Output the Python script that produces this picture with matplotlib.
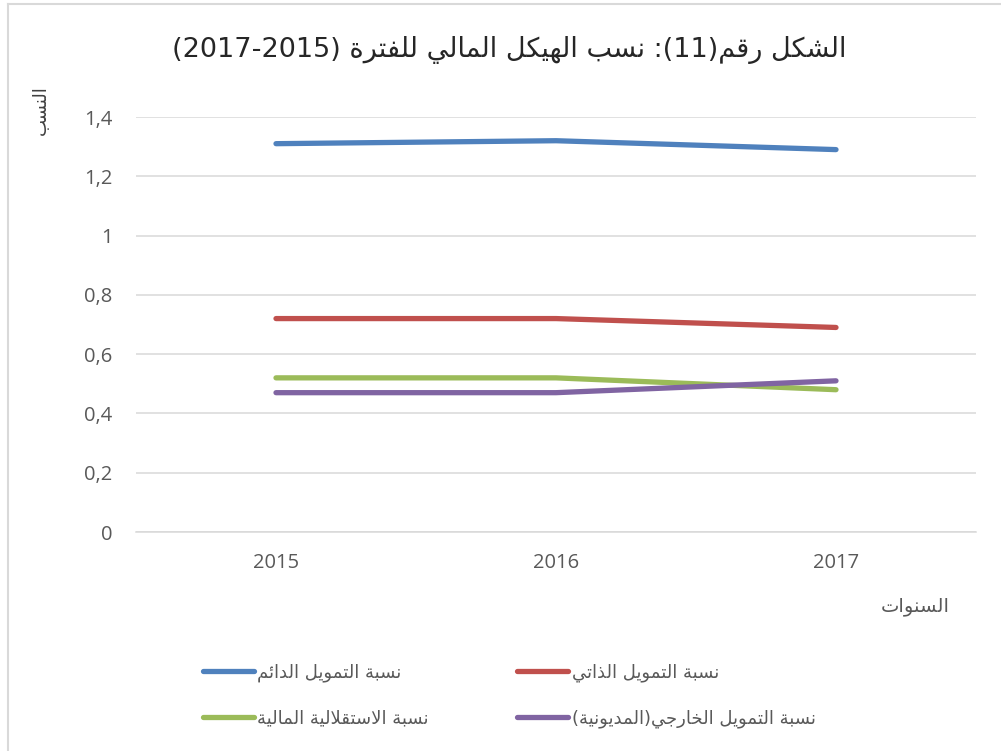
import re
import matplotlib
matplotlib.use("Agg")
import matplotlib.pyplot as plt
from matplotlib.lines import Line2D

# data
years = ["2015", "2016", "2017"]
permanent = [1.31, 1.32, 1.29]
self_fin = [0.72, 0.72, 0.69]
autonomy = [0.52, 0.52, 0.48]
external = [0.47, 0.47, 0.51]

series_names = [
    "نسبة التمويل الدائم",
    "نسبة التمويل الذاتي",
    "نسبة الاستقلالية المالية",
    "نسبة التمويل الخارجي(المديونية)",
]
series_colors = ["#4F81BD", "#C0504D", "#9BBB59", "#8064A2"]
yticks = [0, 0.2, 0.4, 0.6, 0.8, 1, 1.2, 1.4]
ytick_labels = ["0", "0,2", "0,4", "0,6", "0,8", "1", "1,2", "1,4"]

title = "الشكل رقم(11): نسب الهيكل المالي للفترة (2015-2017)"
xlabel = "السنوات"
ylabel = "النسب"

# --- minimal arabic shaping (presentation forms) + rtl ordering ---
FORMS = {
    "ا": (0xFE8D, 0xFE8E, None, None),
    "ب": (0xFE8F, 0xFE90, 0xFE91, 0xFE92),
    "ة": (0xFE93, 0xFE94, None, None),
    "ت": (0xFE95, 0xFE96, 0xFE97, 0xFE98),
    "ج": (0xFE9D, 0xFE9E, 0xFE9F, 0xFEA0),
    "خ": (0xFEA5, 0xFEA6, 0xFEA7, 0xFEA8),
    "د": (0xFEA9, 0xFEAA, None, None),
    "ذ": (0xFEAB, 0xFEAC, None, None),
    "ر": (0xFEAD, 0xFEAE, None, None),
    "س": (0xFEB1, 0xFEB2, 0xFEB3, 0xFEB4),
    "ش": (0xFEB5, 0xFEB6, 0xFEB7, 0xFEB8),
    "ف": (0xFED1, 0xFED2, 0xFED3, 0xFED4),
    "ق": (0xFED5, 0xFED6, 0xFED7, 0xFED8),
    "ك": (0xFED9, 0xFEDA, 0xFEDB, 0xFEDC),
    "ل": (0xFEDD, 0xFEDE, 0xFEDF, 0xFEE0),
    "م": (0xFEE1, 0xFEE2, 0xFEE3, 0xFEE4),
    "ن": (0xFEE5, 0xFEE6, 0xFEE7, 0xFEE8),
    "ه": (0xFEE9, 0xFEEA, 0xFEEB, 0xFEEC),
    "و": (0xFEED, 0xFEEE, None, None),
    "ي": (0xFEF1, 0xFEF2, 0xFEF3, 0xFEF4),
    "ئ": (0xFE89, 0xFE8A, 0xFE8B, 0xFE8C),
}
MIRROR = {"(": ")", ")": "("}


def _dual(c):
    return c in FORMS and FORMS[c][2] is not None


def shape(text):
    out = []
    i = 0
    n = len(text)
    while i < n:
        c = text[i]
        if c not in FORMS:
            out.append(c)
            i += 1
            continue
        prev_join = i > 0 and _dual(text[i - 1])
        if c == "ل" and i + 1 < n and text[i + 1] == "ا":
            out.append(chr(0xFEFC if prev_join else 0xFEFB))
            i += 2
            continue
        next_join = _dual(c) and i + 1 < n and text[i + 1] in FORMS
        iso, fin, ini, med = FORMS[c]
        if prev_join and next_join:
            out.append(chr(med))
        elif prev_join:
            out.append(chr(fin))
        elif next_join:
            out.append(chr(ini))
        else:
            out.append(chr(iso))
        i += 1
    return "".join(out)


def rtl(text):
    tokens = re.findall(r"[0-9]+|.", shape(text))
    return "".join(MIRROR.get(t, t) for t in reversed(tokens))


# --- figure ---
plt.rcParams["font.family"] = ["DejaVu Sans"]
fig = plt.figure(figsize=(10.01, 7.51), dpi=100)
ax = fig.add_axes([136 / 1001, 219 / 751, 840 / 1001, 415 / 751])

x = range(len(years))
values = [permanent, self_fin, autonomy, external]
handles = []
for name, vals, col in zip(series_names, values, series_colors):
    (ln,) = ax.plot(x, vals, color=col, lw=3.8, solid_capstyle="round",
                    solid_joinstyle="round", label=rtl(name), zorder=3)
    handles.append(ln)

ax.set_xlim(-0.5, len(years) - 0.5)
ax.set_ylim(0, 1.4)
ax.set_yticks(yticks)
ax.set_yticklabels(ytick_labels)
ax.set_xticks(list(x))
ax.set_xticklabels(years)
ax.grid(axis="y", color="#D9D9D9", lw=1.1, zorder=0)
for s in ["top", "right", "left"]:
    ax.spines[s].set_visible(False)
ax.spines["bottom"].set_color("#D9D9D9")
ax.spines["bottom"].set_linewidth(1.1)
ax.tick_params(length=0, colors="#595959", labelsize=14.5)
ax.tick_params(axis="y", pad=17)
ax.tick_params(axis="x", pad=15)
for lab in ax.get_xticklabels() + ax.get_yticklabels():
    lab.set_fontfamily("Open Sans")

ax.set_ylabel(rtl(ylabel), color="#404040", fontsize=13)
ax.yaxis.set_label_coords(-0.103, 1.017)

fig.text(915 / 1001, 1 - 607 / 751, rtl(xlabel), ha="center", va="center",
         color="#595959", fontsize=14)

fig.text(509 / 1001, 1 - 50 / 751, rtl(title), ha="center", va="center",
         color="#262626", fontsize=19.5)

# legend: column-major order -> blue, green | red, purple
order = [0, 2, 1, 3]
fig.legend([handles[i] for i in order], [handles[i].get_label() for i in order],
           ncol=2, loc="upper left", bbox_to_anchor=(187 / 1001, 1 - 647 / 751),
           frameon=False, fontsize=13, labelcolor="#595959",
           handlelength=2.8, handletextpad=0.2, columnspacing=4.9,
           labelspacing=1.52)

# chart area border (left and top edges visible)
fig.add_artist(Line2D([8 / 1001, 8 / 1001], [0, 1 - 4 / 751], color="#D9D9D9",
                      lw=1.5, transform=fig.transFigure))
fig.add_artist(Line2D([8 / 1001, 1], [1 - 4 / 751, 1 - 4 / 751], color="#D9D9D9",
                      lw=1.5, transform=fig.transFigure))

fig.savefig("out.png", dpi=100)
